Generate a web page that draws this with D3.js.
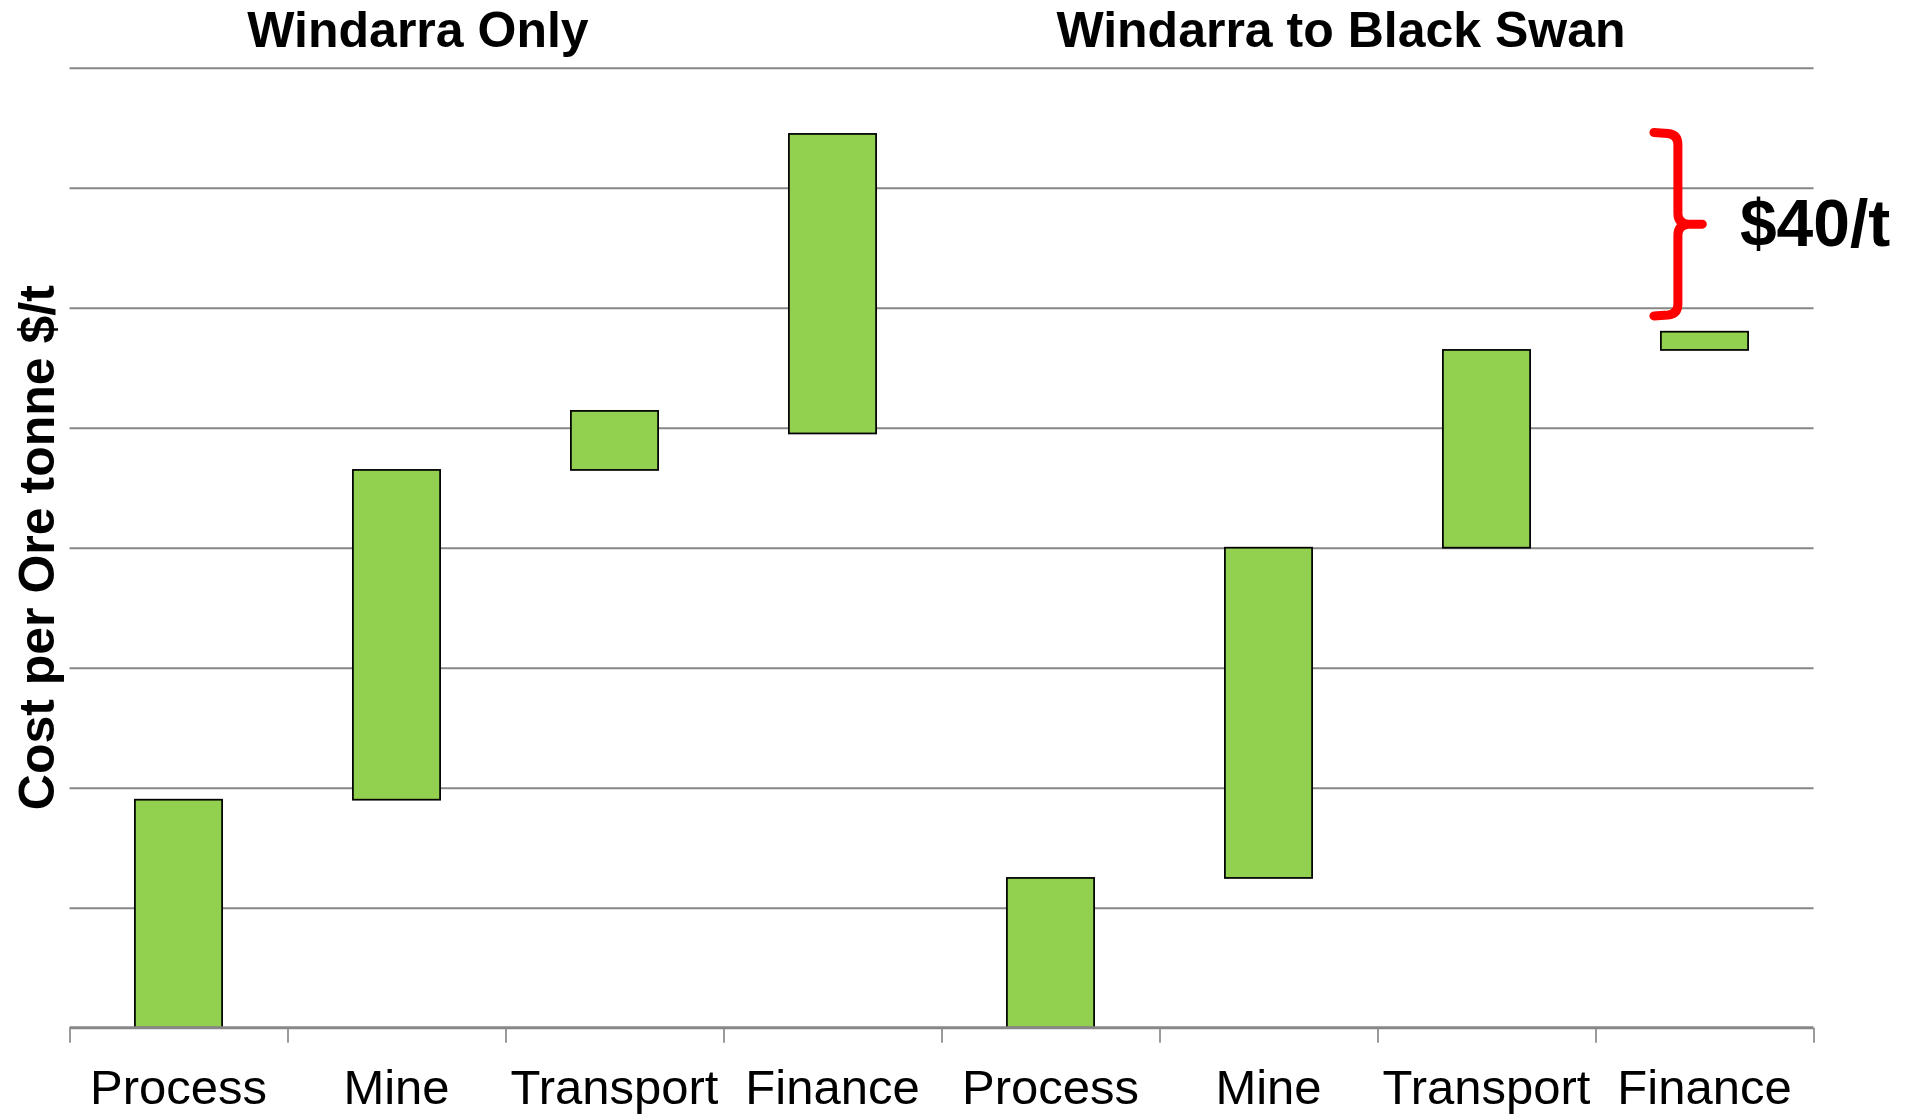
<!DOCTYPE html>
<html>
<head>
<meta charset="utf-8">
<script src="https://cdn.jsdelivr.net/npm/d3@7"></script>
<style>
  html, body { margin: 0; padding: 0; background: #fff; }
  svg { display: block; font-family: "Liberation Sans", Arial, sans-serif; }
</style>
</head>
<body>
<svg id="chart" width="1912" height="1114"></svg>
<script>
// ---- data ----
const categories = ["Process", "Mine", "Transport", "Finance", "Process", "Mine", "Transport", "Finance"];
const groups = ["Windarra Only", "Windarra to Black Swan"];
const groupOf = [0, 0, 0, 0, 1, 1, 1, 1];
const barStart = [0, 47.5, 116.2, 123.8, 0, 31.2, 100, 141.2];
const barEnd   = [47.5, 116.2, 128.5, 186.2, 31.2, 100, 141.2, 145.0];
const gridTicks = [0, 25, 50, 75, 100, 125, 150, 175, 200];
const yTitle = "Cost per Ore tonne $/t";
const braceFrom = 148.5, braceTo = 186.3;
const braceLabel = "$40/t";

// ---- layout ----
const svg = d3.select("#chart");
const mLeft = 69.5, mRight = 1813.5, mTop = 67.7, mBottom = 1027.7;

const keys = categories.map((c, i) => i);
const x = d3.scaleBand().domain(keys).range([mLeft, mRight]).paddingInner(0).paddingOuter(0);
const xi = d3.scaleLinear().domain([0, categories.length]).range([mLeft, mRight]);
const y = d3.scaleLinear().domain([0, 200]).range([mBottom, mTop]);

// gridlines
const grid = svg.append("g")
  .attr("transform", `translate(${mLeft},0)`)
  .call(d3.axisLeft(y).tickValues(gridTicks.filter(d => d > 0)).tickSize(-(mRight - mLeft)).tickFormat(""));
grid.select(".domain").remove();
grid.selectAll(".tick line").attr("stroke", "#878787").attr("stroke-width", 2);

// x tick marks at boundaries
const xt = svg.append("g")
  .attr("transform", `translate(0,${mBottom})`)
  .call(d3.axisBottom(xi).tickValues(d3.range(categories.length + 1)).tickSize(15).tickFormat(""));
xt.select(".domain").remove();
xt.selectAll(".tick line").attr("stroke", "#9a9a9a").attr("stroke-width", 2);

// x labels
const xl = svg.append("g")
  .attr("transform", `translate(0,${mBottom})`)
  .call(d3.axisBottom(x).tickSize(0).tickPadding(0).tickFormat(i => categories[i]));
xl.select(".domain").remove();
xl.selectAll(".tick text")
  .attr("y", 76).attr("dy", 0)
  .attr("font-size", 49).attr("fill", "#000")
  .attr("font-family", "Liberation Sans, Arial, sans-serif");

// bars
const bw = x.bandwidth() * 0.4;
svg.append("g").selectAll("rect").data(keys).join("rect")
  .attr("x", i => x(i) + (x.bandwidth() - bw) / 2)
  .attr("width", bw)
  .attr("y", i => y(barEnd[i]))
  .attr("height", i => y(barStart[i]) - y(barEnd[i]))
  .attr("fill", "#92D050")
  .attr("stroke", "#000")
  .attr("stroke-width", 1.75);

// baseline axis
svg.append("line")
  .attr("x1", mLeft).attr("x2", mRight)
  .attr("y1", y(0)).attr("y2", y(0))
  .attr("stroke", "#878787").attr("stroke-width", 3);

// group titles
const groupCenters = [418, 1341];
svg.append("g").selectAll("text").data(groups).join("text")
  .attr("x", (d, i) => groupCenters[i])
  .attr("y", 47)
  .attr("text-anchor", "middle")
  .attr("font-size", 50).attr("font-weight", "bold")
  .text(d => d);

// y title
svg.append("text")
  .attr("transform", `translate(54,${(mTop + mBottom) / 2}) rotate(-90)`)
  .attr("text-anchor", "middle")
  .attr("font-size", 50).attr("font-weight", "bold")
  .text(yTitle);

// brace annotation
const last = keys[keys.length - 1];
const bx = x(last), bb = x.bandwidth();
const xv = bx + bb * 0.378, xh = bx + bb * 0.268, xn = bx + bb * 0.49;
const yT = y(braceTo), yB = y(braceFrom), yM = (yT + yB) / 2;
const p = d3.path();
p.moveTo(xh, yT - 1);
p.lineTo(xv - 10, yT);
p.quadraticCurveTo(xv, yT + 1, xv, yT + 11);
p.lineTo(xv, yM - 11);
p.quadraticCurveTo(xv, yM - 1, xv + 10, yM);
p.lineTo(xn, yM);
p.moveTo(xv + 10, yM);
p.quadraticCurveTo(xv, yM + 1, xv, yM + 11);
p.lineTo(xv, yB - 11);
p.quadraticCurveTo(xv, yB - 1, xv - 10, yB);
p.lineTo(xh, yB + 1);
svg.append("path")
  .attr("d", p.toString())
  .attr("fill", "none")
  .attr("stroke", "#FF0000")
  .attr("stroke-width", 9)
  .attr("stroke-linecap", "round")
  .attr("stroke-linejoin", "round");

svg.append("text")
  .attr("x", xv + 62)
  .attr("y", yM + 22)
  .attr("font-size", 66).attr("font-weight", "bold")
  .text(braceLabel);
</script>
</body>
</html>
